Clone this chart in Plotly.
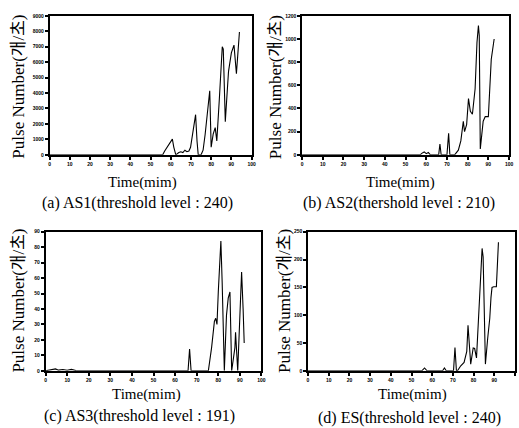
import plotly.graph_objects as go

# Pulse counts per second versus time for the four sensors
time_as1 = [0, 56, 57, 58, 59, 60.8, 61.5, 62.5, 64, 65, 66, 67, 68, 69, 69.8, 71, 72.3, 73, 73.6, 75, 76, 77, 78, 79.3, 80, 81, 82, 82.8, 84, 85.5, 86, 87, 88, 88.6, 90, 91.3, 92.5, 93.2, 94]
pulse_as1 = [0, 0, 250, 450, 700, 1020, 500, 0, 150, 200, 150, 300, 200, 250, 490, 1400, 2600, 900, 0, 0, 300, 1300, 2500, 4150, 490, 1340, 1760, 900, 3500, 7000, 6850, 2150, 4200, 5400, 6600, 7100, 5250, 6600, 7950]

time_as2 = [0, 57, 58, 59, 60, 61, 62, 66, 66.6, 67.2, 70, 70.8, 71.4, 73.7, 75.5, 76.7, 77.9, 78.5, 79.5, 80.4, 81.3, 82.3, 83.6, 84.5, 85.2, 85.6, 86.1, 87.5, 88.5, 90, 91.4, 92.8]
pulse_as2 = [0, 0, 15, 25, 10, 20, 0, 0, 94, 0, 0, 187, 0, 0, 40, 120, 290, 200, 260, 485, 375, 350, 570, 970, 1115, 1030, 50, 290, 330, 330, 825, 1000]

time_as3 = [0, 3, 4.6, 6, 8, 10, 12, 14, 16, 66, 66.7, 67.4, 75.4, 76.9, 78.2, 78.8, 79.4, 80, 81.2, 81.8, 82.8, 83.8, 84.6, 85.4, 86.2, 87.7, 88, 89, 89.5, 90.8, 91.5, 92]
pulse_as3 = [0, 0.5, 1.2, 0.4, 0.8, 0.3, 0.9, 0.2, 0, 0, 14, 0, 0, 15, 32, 34, 30, 51, 84, 57, 0, 36, 47, 51, 0, 15, 25, 0, 15, 64, 40, 18]

time_es = [0, 55, 56.3, 57.5, 65, 65.9, 66.8, 70.3, 71, 71.7, 72.2, 73.8, 75.4, 76.7, 77.3, 77.8, 78.6, 79.8, 80.5, 81.4, 83, 84.1, 84.6, 85.7, 86.8, 87.8, 88.4, 88.9, 89.7, 91, 91.6, 92]
pulse_es = [0, 0, 5, 0, 0, 5, 0, 0, 42, 0, 0, 9, 15, 35, 82, 58, 12, 41, 40, 23, 146, 220, 205, 12, 58, 94, 132, 150, 151, 151, 199, 231]

# Axis ranges and tick steps for each panel
y_max = [9000, 1200, 90, 250]
y_step = [1000, 200, 10, 50]
x_ticks = list(range(0, 101, 10))

captions = [
    "(a) AS1(threshold level : 240)",
    "(b) AS2(thershold level : 210)",
    "(c) AS3(threshold level : 191)",
    "(d) ES(threshold level : 240)",
]
x_title = "Time(mim)"
y_title = "Pulse Number(개/초)"

W, H = 519, 428
SERIF = "Liberation Serif, Noto Sans CJK KR, serif"

# panel boxes in pixels: left, right, top, bottom
boxes = [(49, 253, 13, 154), (304, 513, 13, 154), (45, 263, 232, 373), (310, 520, 232, 373)]
series = [(time_as1, pulse_as1), (time_as2, pulse_as2), (time_as3, pulse_as3), (time_es, pulse_es)]
# label positions in pixels: y-title (x, y), x-title (x, y), caption (x, y)
label_pos = [
    ((18, 85), (143, 182), (138, 203)),
    ((277, 85), (403, 182), (402, 203)),
    ((18, 302), (147, 397), (140, 419)),
    ((287, 302), (415, 397), (412, 421)),
]

fig = go.Figure()
annotations = []
for i, ((l, r, t, b), (xs, ys)) in enumerate(zip(boxes, series)):
    n = "" if i == 0 else str(i + 1)
    fig.add_trace(go.Scatter(
        x=xs, y=ys, mode="lines", line=dict(color="black", width=1.1),
        xaxis="x" + n, yaxis="y" + n, showlegend=False,
    ))
    axis_common = dict(
        showline=True, mirror=True, linecolor="black", linewidth=1.5,
        showgrid=False, zeroline=False, ticks="outside", ticklen=3,
        tickwidth=1.5, tickcolor="black",
        tickfont=dict(family="Liberation Sans", size=5, color="black", weight="bold"),
    )
    fig.update_layout(**{
        "xaxis" + n: dict(
            domain=[l / W, min(r / W, 1.0)], anchor="y" + n,
            range=[0, 100], tickvals=x_ticks, **axis_common,
        ),
        "yaxis" + n: dict(
            domain=[1 - b / H, 1 - t / H], anchor="x" + n,
            range=[0, y_max[i]], dtick=y_step[i], **axis_common,
        ),
    })
    (yx, yy), (tx, ty), (cx, cy) = label_pos[i]
    annotations.append(dict(
        text=y_title, x=yx / W, y=1 - yy / H, xref="paper", yref="paper",
        textangle=-90, showarrow=False, xanchor="center", yanchor="middle",
        font=dict(family=SERIF, size=17, color="black"),
    ))
    annotations.append(dict(
        text=x_title, x=tx / W, y=1 - ty / H, xref="paper", yref="paper",
        showarrow=False, xanchor="center", yanchor="middle",
        font=dict(family=SERIF, size=15, color="black"),
    ))
    annotations.append(dict(
        text=captions[i], x=cx / W, y=1 - cy / H, xref="paper", yref="paper",
        showarrow=False, xanchor="center", yanchor="middle",
        font=dict(family=SERIF, size=16, color="black"),
    ))

fig.update_layout(
    width=W, height=H, autosize=False,
    margin=dict(l=0, r=0, t=0, b=0),
    paper_bgcolor="white", plot_bgcolor="white",
    annotations=annotations,
)

fig.write_html("out.html")
